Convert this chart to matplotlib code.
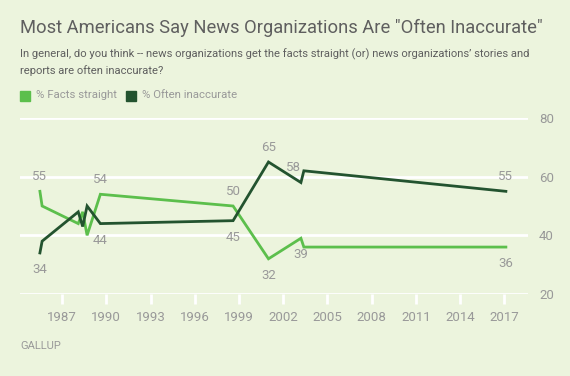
import matplotlib
matplotlib.use("Agg")
import matplotlib.pyplot as plt
from matplotlib.patches import Rectangle

years = [1985.5, 1985.65, 1988.1, 1988.4, 1988.7, 1989.6, 1998.6, 2001.0, 2003.2, 2003.4, 2017.1]
facts_straight = [55, 50, 44, 48, 40, 54, 50, 32, 39, 36, 36]
often_inaccurate = [34, 38, 48, 43, 50, 44, 45, 65, 58, 62, 55]
x_ticks = list(range(1987, 2018, 3))
y_ticks = [20, 40, 60, 80]

BG = "#ECF4DD"
LIGHT = "#5CBF4C"
DARK = "#23532F"
GRAY = "#999999"
TXT = "#5F5F5F"

plt.rcParams['font.family'] = ['Roboto', 'DejaVu Sans']

fig = plt.figure(figsize=(5.7, 3.76), dpi=100, facecolor=BG)
ax = fig.add_axes([20/570, 1-294/376, (528-20)/570, (294-118)/376], facecolor=BG)

ax.plot(years, facts_straight, color=LIGHT, lw=2, solid_joinstyle='miter', zorder=3)
ax.plot(years, often_inaccurate, color=DARK, lw=2, solid_joinstyle='miter', zorder=3)

ax.set_xlim(1984.15, 2018.6)
ax.set_ylim(20, 80)
for s in ax.spines.values():
    s.set_visible(False)
for y in y_ticks:
    ax.axhline(y, color='white', lw=2, zorder=1)
ax.set_yticks(y_ticks)
ax.yaxis.tick_right()
ax.tick_params(axis='y', length=0, pad=8, labelsize=9.5, labelcolor=GRAY)
ax.set_xticks(x_ticks)
ax.tick_params(axis='x', length=7, width=2, color='white', pad=5, labelsize=9.5, labelcolor=GRAY)

def lab(i, series, above, dx=0):
    ax.annotate(str(series[i]), (years[i], series[i]), xytext=(dx, 10.5 if above else -12),
                textcoords='offset points', ha='center', va='center',
                fontsize=9.5, color=GRAY)

lab(0, facts_straight, True)
lab(0, often_inaccurate, False)
lab(5, facts_straight, True)
lab(5, often_inaccurate, False)
lab(6, facts_straight, True)
lab(6, often_inaccurate, False)
lab(7, often_inaccurate, True)
lab(7, facts_straight, False)
lab(8, often_inaccurate, True, dx=-5)
lab(8, facts_straight, False)
lab(10, often_inaccurate, True)
lab(10, facts_straight, False)

fig.text(20/570, 1-28/376, 'Most Americans Say News Organizations Are "Often Inaccurate"',
         fontsize=13.2, color=TXT, va='center', ha='left')
fig.text(20/570, 1-54/376, "In general, do you think -- news organizations get the facts straight (or) news organizations\u2019 stories and",
         fontsize=8.1, color=TXT, va='center', ha='left')
fig.text(20/570, 1-71/376, "reports are often inaccurate?",
         fontsize=8.1, color=TXT, va='center', ha='left')

fig.patches.append(Rectangle((20/570, 1-100.5/376), 10/570, 10/376, transform=fig.transFigure, color=LIGHT))
fig.text(36/570, 1-95.5/376, "% Facts straight", fontsize=8.2, color=GRAY, va='center', ha='left')
fig.patches.append(Rectangle((126/570, 1-100.5/376), 10/570, 10/376, transform=fig.transFigure, color=DARK))
fig.text(142/570, 1-95.5/376, "% Often inaccurate", fontsize=8.2, color=GRAY, va='center', ha='left')

fig.text(20/570, 1-346/376, "GALLUP", fontsize=8, color=GRAY, va='center', ha='left')

fig.savefig("out.png", dpi=100, facecolor=BG)
